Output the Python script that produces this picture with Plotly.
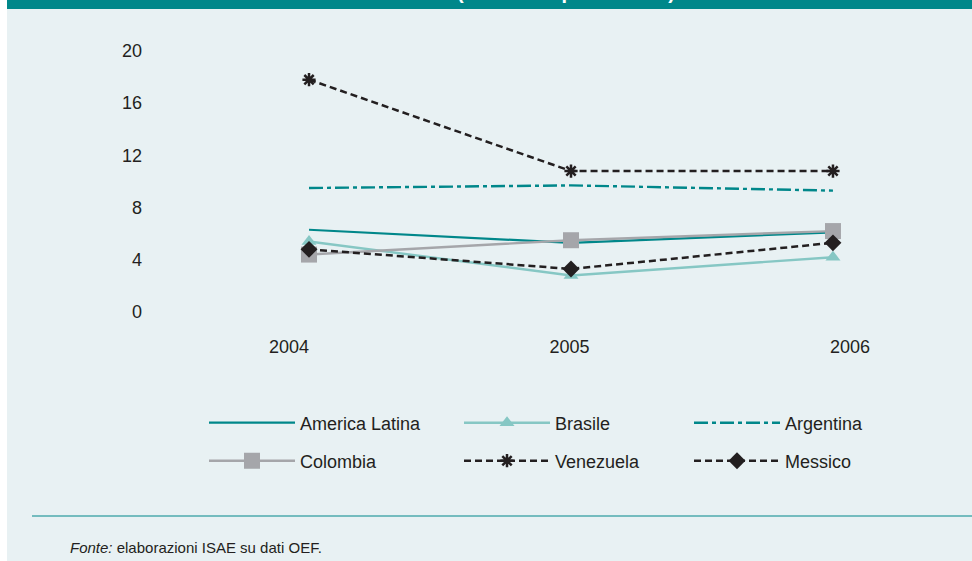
import plotly.graph_objects as go

W, H = 972, 561
L, R, T, B = 150, 40, 40, 231  # plot area: x 150..932, y 40..330

years = [2004, 2005, 2006]
america_latina = [6.3, 5.3, 6.1]
brasile = [5.4, 2.8, 4.2]
argentina = [9.5, 9.7, 9.3]
colombia = [4.4, 5.5, 6.2]
venezuela = [17.8, 10.8, 10.8]
messico = [4.8, 3.3, 5.3]

y_ticks = [0, 4, 8, 12, 16, 20]

TEAL = "#00878A"
LIGHT_TEAL = "#86C7C4"
GREY = "#A5A6AA"
DARK = "#231F20"
BG = "#E8F1F3"
FONT = "Liberation Sans, Arial, sans-serif"


def px_x(px):
    return (px - L) / (W - L - R)


def px_y(py):
    return (H - B - py) / (H - T - B)


fig = go.Figure()

# name, values, mode, line, marker, legend, legend entry width
series = [
    ("America Latina", america_latina, "lines", dict(color=TEAL, width=2.2), None, "legend", 154),
    ("Brasile", brasile, "lines+markers", dict(color=LIGHT_TEAL, width=2.4),
     dict(symbol="triangle-up", size=13, color=LIGHT_TEAL), "legend", 129),
    ("Argentina", argentina, "lines", dict(color=TEAL, width=2.4, dash="14px,4px,4px,4px"), None, "legend", 120),
    ("Colombia", colombia, "lines+markers", dict(color=GREY, width=2.4),
     dict(symbol="square", size=16, color=GREY), "legend2", 154),
    ("Venezuela", venezuela, "lines+markers", dict(color=DARK, width=2.5, dash="7px,4px"),
     dict(symbol="asterisk-open", size=11, color=DARK, line=dict(color=DARK, width=2.5)), "legend2", 129),
    ("Messico", messico, "lines+markers", dict(color=DARK, width=2.5, dash="7px,4px"),
     dict(symbol="diamond", size=13, color=DARK), "legend2", 120),
]

for name, vals, mode, line, marker, lg, lw in series:
    kw = dict(marker=marker) if marker else {}
    fig.add_trace(go.Scatter(x=years, y=vals, name=name, mode=mode, line=line,
                             legend=lg, legendwidth=lw, hoverinfo="skip", **kw))

# year labels sit on their own axis (they are spaced a little wider than the points)
fig.add_trace(go.Scatter(x=years, y=[None] * 3, xaxis="x2", showlegend=False, hoverinfo="skip"))

shapes = [
    # header band
    dict(type="rect", xref="paper", yref="paper", x0=px_x(7), x1=px_x(W), y0=px_y(9), y1=px_y(0),
         fillcolor=TEAL, line=dict(width=0), layer="below"),
    # white strip at far left
    dict(type="rect", xref="paper", yref="paper", x0=px_x(0), x1=px_x(7), y0=px_y(H), y1=px_y(0),
         fillcolor="white", line=dict(width=0), layer="below"),
    # separator above the source line
    dict(type="line", xref="paper", yref="paper", x0=px_x(32), x1=px_x(W), y0=px_y(516), y1=px_y(516),
         line=dict(color=TEAL, width=1)),
]

annotations = [
    # bottom of the title, cut by the top edge as in the original
    dict(text="<b>(variazioni percentuali)</b>", xref="paper", yref="paper", x=px_x(566), y=px_y(5),
         xanchor="center", yanchor="bottom", showarrow=False,
         font=dict(family=FONT, size=20, color="white")),
    dict(text="<i>Fonte:</i> elaborazioni ISAE su dati OEF.", xref="paper", yref="paper",
         x=px_x(68), y=px_y(547), xanchor="left", yanchor="middle", showarrow=False,
         font=dict(family=FONT, size=15, color=DARK)),
]

legend_common = dict(orientation="h", xanchor="left", yanchor="middle", bgcolor="rgba(0,0,0,0)",
                     font=dict(family=FONT, size=18, color=DARK), itemwidth=86,
                     itemclick=False, itemdoubleclick=False)

tick_font = dict(family=FONT, size=18, color=DARK)

fig.update_layout(
    width=W, height=H,
    margin=dict(l=L, r=R, t=T, b=B),
    paper_bgcolor=BG, plot_bgcolor=BG,
    font=dict(family=FONT, size=18, color=DARK),
    showlegend=True,
    legend=dict(x=px_x(204), y=px_y(423), **legend_common),
    legend2=dict(x=px_x(204), y=px_y(461), **legend_common),
    shapes=shapes, annotations=annotations,
    xaxis=dict(range=[2003.393, 2006.378], showticklabels=False,
               showgrid=False, zeroline=False, showline=False, ticks=""),
    xaxis2=dict(range=[2003.5045, 2006.2923], overlaying="x", anchor="y", side="bottom",
                tickvals=years, ticktext=[str(y) for y in years],
                showgrid=False, zeroline=False, showline=False, ticks="",
                ticklabelstandoff=4, tickfont=tick_font),
    yaxis=dict(range=[-1.379, 20.84], tickvals=y_ticks, showgrid=False, zeroline=False,
               showline=False, ticks="", ticklabelstandoff=7, tickfont=tick_font),
)

fig.write_html("out.html", config={"displayModeBar": False},
               post_script="document.body.style.margin='0';")
